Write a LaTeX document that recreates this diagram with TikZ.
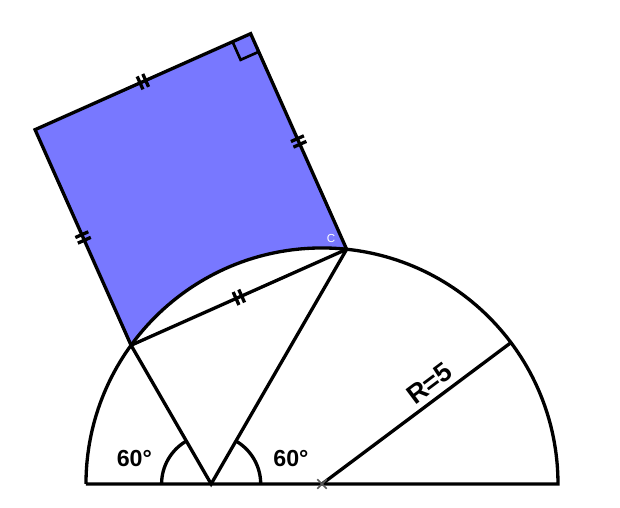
\documentclass[tikz,border=0pt]{standalone}
\usepackage{fontspec}
\setmainfont{Liberation Sans}
\usetikzlibrary{calc}
\definecolor{sqblue}{RGB}{120,120,255}
\tikzset{
  thick line/.style={line width=2pt, line join=miter},
  dtick/.pic={\draw[line width=2pt] (-0.065,-0.15)--(-0.065,0.15) (0.065,-0.15)--(0.065,0.15);},
  lbl/.style={font=\bfseries\fontsize{14}{16}\selectfont}
}
\begin{document}
\begin{tikzpicture}
\useasboundingbox (-6.822,-0.508) rectangle (6.314,10.254);
\coordinate (O) at (0,0);
\coordinate (A) at (84:5);
\coordinate (B) at (144:5);
\coordinate (P) at (-2.3484,0);
\coordinate (C) at ($(B)!1!90:(A)$);
\coordinate (D) at ($(A)!1!-90:(B)$);
\coordinate (E) at (36.8:5);
\coordinate (L) at (-5,0);
\coordinate (Rr) at (5,0);
% fill
\fill[sqblue] (B) -- (C) -- (D) -- (A) arc[start angle=84, end angle=144, radius=5] -- cycle;
% semicircle
\draw[thick line] (L) -- (Rr) arc[start angle=0, end angle=180, radius=5];
% square with ticks
\draw[thick line] (B) -- (C) pic[midway, sloped]{dtick}
  -- (D) pic[midway, sloped]{dtick}
  -- (A) pic[midway, sloped]{dtick}
  -- (B) pic[midway, sloped]{dtick} -- cycle;
% right angle marker
\coordinate (M1) at ($(D)!0.42cm!(C)$);
\coordinate (M2) at ($(D)!0.42cm!(A)$);
\draw[line width=1.6pt] (M1) -- ($(M1)+(M2)-(D)$) -- (M2);
% lines from P
\draw[thick line] (B) -- (P) -- (A);
% radius
\draw[thick line] (O) -- node[font=\bfseries\fontsize{16}{18}\selectfont, sloped, above, pos=0.62, inner sep=3pt] {R=5} (E);
% angle arcs
\draw[thick line] ($(P)+(-1.05,0)$) arc[start angle=180, end angle=120, radius=1.05];
\draw[thick line] ($(P)+(1.05,0)$) arc[start angle=0, end angle=60, radius=1.05];
\node[lbl] (a1) at (-3.975,0.53) {60°};
\node[lbl] (a2) at (-0.657,0.53) {60°};
% centre mark
\draw[gray!70!black, line width=1pt] (-0.1,-0.1) -- (0.1,0.1) (-0.1,0.1) -- (0.1,-0.1);
% vertex label
\node[text=white, font=\fontsize{7}{8}\selectfont, inner sep=0pt] (cl) at (0.19,5.21) {C};
\end{tikzpicture}
\end{document}
